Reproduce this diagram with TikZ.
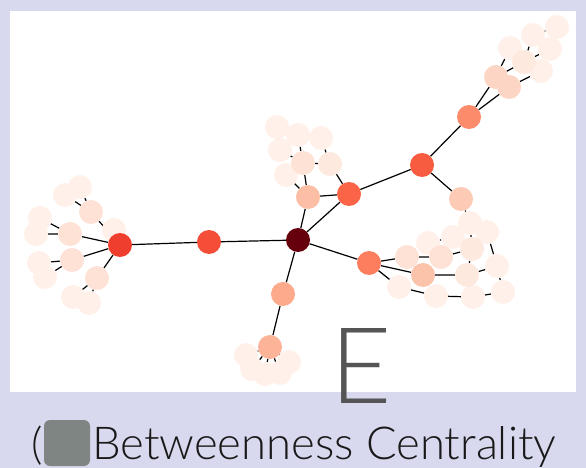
\documentclass[tikz,border=0pt]{standalone}
\usepackage{fontspec}
\setmainfont{Lato}
\newfontfamily\thinfont{Lato Light}
\usepackage{graphicx}
\pgfdeclarelayer{back}
\pgfdeclarelayer{bg}
\pgfsetlayers{back,bg,main}
\definecolor{lav}{HTML}{D8D9EE}
\definecolor{cH}{HTML}{67000D}
\definecolor{cL0}{HTML}{F03E2E}
\definecolor{cM1}{HTML}{F44D38}
\definecolor{cM}{HTML}{F75B40}
\definecolor{cC1}{HTML}{FB6447}
\definecolor{cR0}{HTML}{FC7E5E}
\definecolor{cT0}{HTML}{FC8B6B}
\definecolor{cB0}{HTML}{FCA98C}
\definecolor{cB1}{HTML}{FDB398}
\definecolor{cC0}{HTML}{FCBEA5}
\definecolor{cR9}{HTML}{FCC3AB}
\definecolor{cR1}{HTML}{FDCAB5}
\definecolor{cT1}{HTML}{FDD5C4}
\definecolor{clt}{HTML}{FEE2D5}
\definecolor{clr}{HTML}{FEE9DF}
\definecolor{cvl}{HTML}{FFF1EA}
\definecolor{egray}{HTML}{555555}
\definecolor{sqgray}{HTML}{7F8583}
\begin{document}
\begin{tikzpicture}[x=1pt,y=-1pt,
  nd/.style={circle,minimum size=24pt,inner sep=0pt,draw=none},
  vl/.style={nd,fill=cvl},
  lr/.style={nd,fill=clr},
  lt/.style={nd,fill=clt},
  edge/.style={line width=1.2pt,black}]
\useasboundingbox (0,0) rectangle (586,468);
\begin{pgfonlayer}{back}
\fill[lav] (0,0) rectangle (586,468);
\fill[white] (10,11) rectangle (576,392);
\end{pgfonlayer}
% very light leaves
\node[vl] (L1) at (114,230) {};
\node[vl] (L3) at (80,187) {};
\node[vl] (L4) at (65,195) {};
\node[vl] (L6) at (40,218) {};
\node[vl] (L7) at (36,234) {};
\node[vl] (L9) at (39,263) {};
\node[vl] (L10) at (45,277) {};
\node[vl] (L12) at (73,297) {};
\node[vl] (L13) at (89,303) {};
\node[vl] (C4) at (277,127) {};
\node[vl] (C5) at (298,135) {};
\node[vl] (C6) at (321,138) {};
\node[vl] (C7) at (280,150) {};
\node[vl] (C8) at (286,175) {};
\node[vl] (T3) at (510,48) {};
\node[vl] (T5) at (533,35) {};
\node[vl] (T8) at (557,27) {};
\node[vl] (T7) at (550,49) {};
\node[vl] (T6) at (541,71) {};
\node[vl] (R4) at (428,243) {};
\node[vl] (R5) at (453,237) {};
\node[vl] (R2) at (470,223) {};
\node[vl] (R3) at (487,232) {};
\node[vl] (R11) at (497,266) {};
\node[vl] (R12) at (399,287) {};
\node[vl] (R13) at (436,296) {};
\node[vl] (R14) at (473,297) {};
\node[vl] (R15) at (503,292) {};
\node[vl] (B2) at (246,355) {};
\node[vl] (B3) at (252,369) {};
\node[vl] (B4) at (265,374) {};
\node[vl] (B5) at (280,373) {};
\node[vl] (B6) at (289,362) {};
% light
\node[lt] (L2) at (91,212) {};
\node[lt] (L5) at (70,234) {};
\node[lt] (L8) at (72,260) {};
\node[lt] (L11) at (97,278) {};
\node[lt] (C2) at (303,163) {};
\node[lr] (C3) at (330,164) {};
\node[lr] (T4) at (524,62) {};
\node[lt] (R7) at (407,257) {};
\node[lt] (R8) at (441,257) {};
\node[lr] (R6) at (472,249) {};
\node[lr] (R10) at (467,275) {};
\node[nd,fill=cT1] (T1) at (496,77) {};
\node[nd,fill=cT1] (T2) at (509,87) {};
\node[nd,fill=cR1] (R1) at (461,199) {};
\node[nd,fill=cR9] (R9) at (423,275) {};
\node[nd,fill=cC0] (C0) at (308,197) {};
\node[nd,fill=cB1] (B1) at (270,347) {};
\node[nd,fill=cB0] (B0) at (283,294) {};
\node[nd,fill=cT0] (T0) at (469,117) {};
\node[nd,fill=cR0] (R0) at (369,263) {};
\node[nd,fill=cC1] (C1) at (349,194) {};
\node[nd,fill=cM] (M) at (422,165) {};
\node[nd,fill=cM1] (M1) at (209,242) {};
\node[nd,fill=cL0] (L0) at (120,245) {};
\node[nd,fill=cH] (H) at (298,240) {};
\begin{pgfonlayer}{bg}
\draw[edge] (H)--(M1) (M1)--(L0) (H)--(B0) (B0)--(B1) (H)--(R0) (H)--(C0) (H)--(C1)
  (C0)--(C1) (C1)--(M) (M)--(T0) (M)--(R1);
\draw[edge] (L0)--(L1) (L0)--(L2) (L0)--(L5) (L0)--(L8) (L0)--(L11)
  (L2)--(L3) (L2)--(L4) (L5)--(L6) (L5)--(L7) (L8)--(L9) (L8)--(L10)
  (L11)--(L12) (L11)--(L13);
\draw[edge] (C0)--(C2) (C1)--(C3) (C2)--(C5) (C2)--(C7) (C2)--(C3) (C3)--(C6)
  (C0)--(C8) (C7)--(C4);
\draw[edge] (T0)--(T1) (T0)--(T2) (T1)--(T3) (T1)--(T4) (T2)--(T6)
  (T4)--(T5) (T4)--(T7) (T5)--(T8);
\draw[edge] (R1)--(R2) (R2)--(R6) (R3)--(R11) (R6)--(R10) (R6)--(R8)
  (R0)--(R7) (R0)--(R9) (R0)--(R12) (R7)--(R8) (R9)--(R10) (R10)--(R11)
  (R11)--(R15) (R12)--(R13) (R13)--(R14) (R14)--(R15) (R4)--(R5) (R2)--(R3);
\draw[edge] (B1)--(B2) (B1)--(B3) (B1)--(B4) (B1)--(B5) (B1)--(B6);
\end{pgfonlayer}
% texts
\node[anchor=base west,inner sep=0pt,text=egray,font=\thinfont\fontsize{106}{106}\selectfont] (E) at (330,403) {E};
\node[anchor=base east,inner sep=0pt,text=black!90,font=\thinfont\fontsize{44}{44}\selectfont] (par) at (43,459) {(};
\node[fill=sqgray,rounded corners=6pt,minimum width=46pt,minimum height=46pt,inner sep=0pt] (sq) at (67,443) {};
\node[anchor=base west,inner sep=0pt,text=black!90] (lbl) at (92,459)
  {\resizebox{464pt}{33pt}{\thinfont\fontsize{40}{40}\selectfont Betweenness Centrality}};
\end{tikzpicture}
\end{document}
